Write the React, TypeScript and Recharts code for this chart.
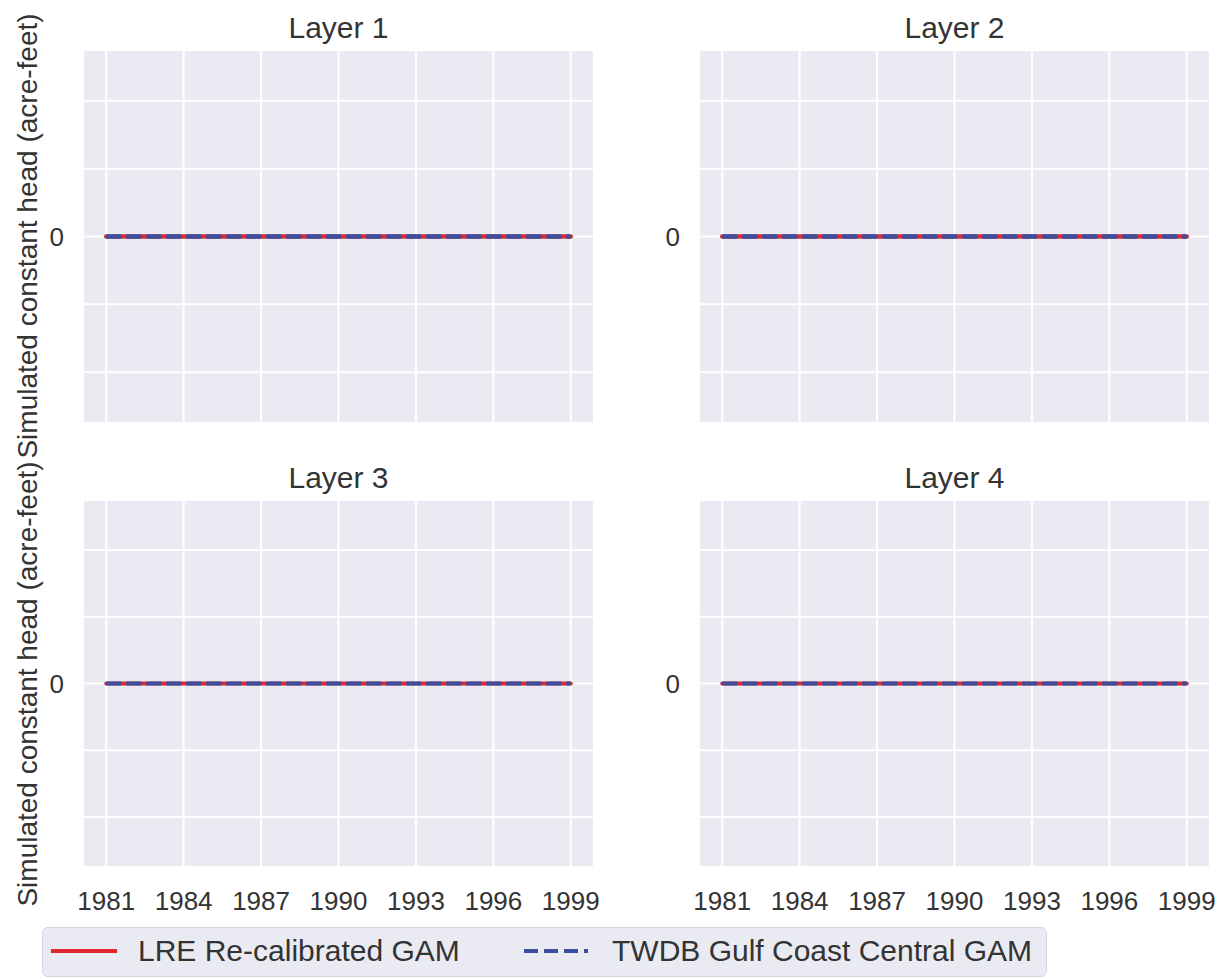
import React from "react";
import { LineChart, Line, XAxis, YAxis, CartesianGrid } from "recharts";

// yearly values, every layer is flat at zero for both models
const years = [1981, 1982, 1983, 1984, 1985, 1986, 1987, 1988, 1989, 1990, 1991, 1992, 1993, 1994, 1995, 1996, 1997, 1998, 1999];
const layerNames = ["Layer 1", "Layer 2", "Layer 3", "Layer 4"];
const lreValues = [
  [0, 0, 0, 0, 0, 0, 0, 0, 0, 0, 0, 0, 0, 0, 0, 0, 0, 0, 0],
  [0, 0, 0, 0, 0, 0, 0, 0, 0, 0, 0, 0, 0, 0, 0, 0, 0, 0, 0],
  [0, 0, 0, 0, 0, 0, 0, 0, 0, 0, 0, 0, 0, 0, 0, 0, 0, 0, 0],
  [0, 0, 0, 0, 0, 0, 0, 0, 0, 0, 0, 0, 0, 0, 0, 0, 0, 0, 0],
];
const twdbValues = [
  [0, 0, 0, 0, 0, 0, 0, 0, 0, 0, 0, 0, 0, 0, 0, 0, 0, 0, 0],
  [0, 0, 0, 0, 0, 0, 0, 0, 0, 0, 0, 0, 0, 0, 0, 0, 0, 0, 0],
  [0, 0, 0, 0, 0, 0, 0, 0, 0, 0, 0, 0, 0, 0, 0, 0, 0, 0, 0],
  [0, 0, 0, 0, 0, 0, 0, 0, 0, 0, 0, 0, 0, 0, 0, 0, 0, 0, 0],
];
const xTicks = [1981, 1984, 1987, 1990, 1993, 1996, 1999];
const yTicks = [-0.04, -0.02, 0, 0.02, 0.04];
const seriesLabels = ["LRE Re-calibrated GAM", "TWDB Gulf Coast Central GAM"];
const yLabel = "Simulated constant head (acre-feet)";

const RED = "#e3262f";
const BLUE = "#3c4f9e";
const BG = "#eaeaf2";
const TEXT = "#333333";
const FONT = "'Liberation Sans', Arial, sans-serif";

const Y_AXIS_W = 60;
const PLOT_W = 511;
const RIGHT_PAD = 24;

// plot-area boxes for the 2x2 grid
const panels = [
  { left: 83, top: 50, height: 373, bottomRow: false, lw: 4.5 },
  { left: 699, top: 50, height: 373, bottomRow: false, lw: 4.5 },
  { left: 83, top: 500, height: 367, bottomRow: true, lw: 4 },
  { left: 699, top: 500, height: 367, bottomRow: true, lw: 4 },
];

const Panel = ({ idx }: { idx: number }) => {
  const p = panels[idx];
  const data = years.map((y, i) => ({ year: y, lre: lreValues[idx][i], twdb: twdbValues[idx][i] }));
  const xAxisH = p.bottomRow ? 55 : 1;
  return (
    <div style={{ position: "absolute", left: p.left - Y_AXIS_W, top: p.top - 45 }}>
      <div
        style={{
          position: "absolute",
          left: Y_AXIS_W,
          width: PLOT_W,
          top: 7,
          textAlign: "center",
          fontSize: 30,
          color: TEXT,
          fontFamily: FONT,
          lineHeight: "32px",
        }}
      >
        {layerNames[idx]}
      </div>
      <div style={{ position: "absolute", left: 0, top: 45 }}>
        <LineChart
          width={Y_AXIS_W + PLOT_W + RIGHT_PAD}
          height={p.height + xAxisH}
          data={data}
          margin={{ top: 0, right: RIGHT_PAD, bottom: 0, left: 0 }}
        >
          <CartesianGrid fill={BG} stroke="#ffffff" strokeWidth={2} />
          <XAxis
            dataKey="year"
            type="number"
            domain={[1980.1, 1999.9]}
            ticks={xTicks}
            allowDataOverflow
            axisLine={false}
            tickLine={false}
            tickSize={0}
            tickMargin={25}
            height={xAxisH}
            tickFormatter={(v: number) => (p.bottomRow ? String(v) : "")}
            tick={{ fill: TEXT, fontSize: 26, fontFamily: FONT }}
          />
          <YAxis
            type="number"
            domain={[-0.055, 0.055]}
            ticks={yTicks}
            allowDataOverflow
            width={Y_AXIS_W}
            axisLine={false}
            tickLine={false}
            tickSize={0}
            tickMargin={19}
            tickFormatter={(v: number) => (v === 0 ? "0" : "")}
            tick={{ fill: TEXT, fontSize: 26, fontFamily: FONT }}
          />
          <Line
            dataKey="lre"
            stroke={RED}
            strokeWidth={p.lw}
            strokeLinecap="round"
            dot={false}
            isAnimationActive={false}
          />
          <Line
            dataKey="twdb"
            stroke={BLUE}
            strokeWidth={p.lw}
            strokeDasharray="15 5"
            dot={false}
            isAnimationActive={false}
          />
        </LineChart>
      </div>
    </div>
  );
};

const YLabel = ({ cy }: { cy: number }) => (
  <div
    style={{
      position: "absolute",
      left: 28,
      top: cy,
      transform: "translate(-50%, -50%) rotate(-90deg)",
      whiteSpace: "nowrap",
      fontSize: 28,
      color: TEXT,
      fontFamily: FONT,
    }}
  >
    {yLabel}
  </div>
);

const LegendBox = () => (
  <div
    style={{
      position: "absolute",
      left: 42,
      top: 927,
      width: 1005,
      height: 50,
      boxSizing: "border-box",
      background: BG,
      border: "1px solid #d4d4dc",
      borderRadius: 6,
      fontFamily: FONT,
      fontSize: 30,
      color: TEXT,
    }}
  >
    <svg width={70} height={10} style={{ position: "absolute", left: 6, top: 18 }}>
      <line x1={2} y1={5} x2={68} y2={5} stroke={RED} strokeWidth={4} />
    </svg>
    <div style={{ position: "absolute", left: 95, top: 5, lineHeight: "36px", whiteSpace: "nowrap" }}>
      {seriesLabels[0]}
    </div>
    <svg width={70} height={10} style={{ position: "absolute", left: 479, top: 18 }}>
      <line x1={2} y1={5} x2={66} y2={5} stroke={BLUE} strokeWidth={4} strokeDasharray="14 6" />
    </svg>
    <div style={{ position: "absolute", left: 569, top: 5, lineHeight: "36px", whiteSpace: "nowrap" }}>
      {seriesLabels[1]}
    </div>
  </div>
);

export default function App() {
  return (
    <div
      style={{
        position: "absolute",
        left: 0,
        top: 0,
        width: 1225,
        height: 979,
        background: "#ffffff",
        overflow: "hidden",
      }}
    >
      {panels.map((_, i) => (
        <Panel key={i} idx={i} />
      ))}
      <YLabel cy={236} />
      <YLabel cy={684} />
      <LegendBox />
    </div>
  );
}
